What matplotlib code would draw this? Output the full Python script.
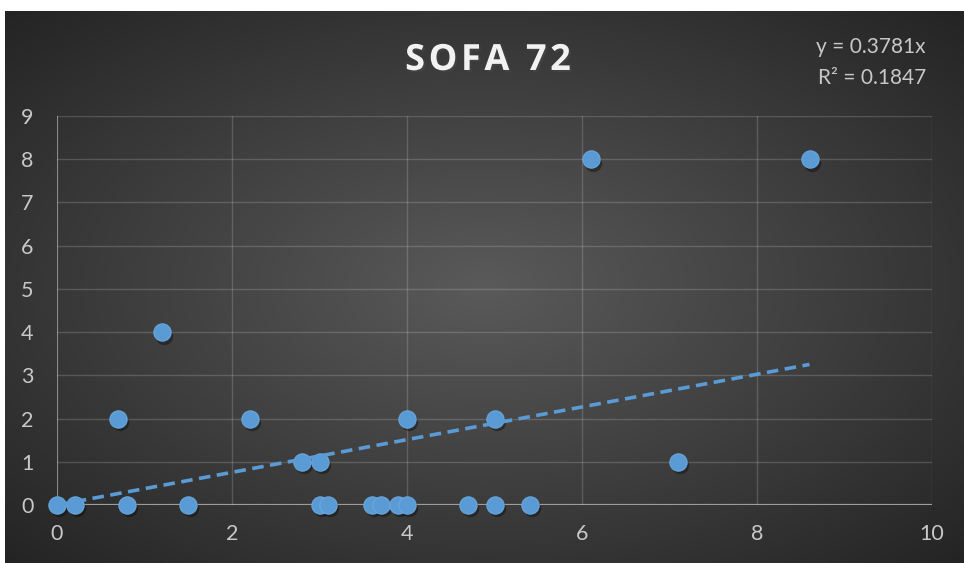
import numpy as np
import matplotlib
matplotlib.use("Agg")
import matplotlib.pyplot as plt
from matplotlib.transforms import ScaledTranslation
import matplotlib.patheffects as pe

# SOFA 72 scatter data
x_vals = [0, 0.2, 0.8, 1.5, 3.0, 3.1, 3.6, 3.7, 3.9, 4.0, 4.7, 5.0, 5.4,
          2.8, 3.0, 7.1,
          0.7, 2.2, 4.0, 5.0,
          1.2,
          6.1, 8.6]
y_vals = [0, 0, 0, 0, 0, 0, 0, 0, 0, 0, 0, 0, 0,
          1, 1, 1,
          2, 2, 2, 2,
          4,
          8, 8]

# Linear trend through the origin
slope = 0.3781
r_squared = 0.1847
trend_x = [0, 8.6]

x_ticks = [0, 2, 4, 6, 8, 10]
y_ticks = list(range(0, 10))

W, H = 964, 563
fig = plt.figure(figsize=(W / 100, H / 100), dpi=100, facecolor="white")

# Dark radial gradient chart background
bg = fig.add_axes([5 / W, 0, (W - 5) / W, (H - 11) / H])
bg.set_axis_off()
gx = np.linspace(-1, 1, 600)
gy = np.linspace(-1, 1, 350)
GX, GY = np.meshgrid(gx, gy)
r = np.sqrt(GX ** 2 + GY ** 2) / np.sqrt(2)
inner = np.array([0x5a, 0x5a, 0x5a]) / 255
outer = np.array([0x24, 0x24, 0x24]) / 255
t = np.clip(r, 0, 1)[..., None]
img = inner * (1 - t) + outer * t
bg.imshow(img, aspect="auto", extent=[0, 1, 0, 1], interpolation="bilinear")
bg.set_xlim(0, 1)
bg.set_ylim(0, 1)

ax = fig.add_axes([57 / W, (H - 505) / H, (932 - 57) / W, (505 - 116) / H])
ax.set_facecolor("none")
ax.set_xlim(0, 10)
ax.set_ylim(0, 9)
ax.set_xticks(x_ticks)
ax.set_yticks(y_ticks)
for s in ax.spines.values():
    s.set_visible(False)
ax.grid(True, color="white", alpha=0.17, linewidth=1.0)
ax.axhline(0, color="#9a9a9a", linewidth=1.6, zorder=1)
ax.axvline(0, color="#808080", linewidth=1.2, zorder=1)
ax.tick_params(length=0, labelsize=15.5, labelcolor="#c8c8c8")
ax.tick_params(axis="y", pad=17)
ax.tick_params(axis="x", pad=14)
for lab in ax.get_xticklabels() + ax.get_yticklabels():
    lab.set_fontfamily("Lato")

# Soft drop shadow beneath markers
shadow = ax.transData + ScaledTranslation(1.5 / 72, -2.5 / 72, fig.dpi_scale_trans)
ax.scatter(x_vals, y_vals, s=155, color="black", alpha=0.35, linewidths=0,
           transform=shadow, zorder=2, clip_on=False)
ax.scatter(x_vals, y_vals, s=155, color="#5b9bd5", edgecolors="#6aa7dd",
           linewidths=0.8, zorder=3, clip_on=False)

trend_y = [slope * v for v in trend_x]
ax.plot(trend_x, trend_y, color="#5b9bd5", linewidth=2.6,
        dashes=(3.2, 1.8), zorder=4, solid_capstyle="butt")

# Letter-spaced bold title
title = "SOFA 72"
spaced = "\u200a".join(title)
fig.text(488 / W, 1 - 61 / H, spaced,
         ha="center", va="center", fontsize=26, fontweight="bold",
         family=["Open Sans", "DejaVu Sans"], color="#f2f2f2",
         path_effects=[pe.withSimplePatchShadow(offset=(1.5, -1.5), alpha=0.5)])

fig.text(926 / W, 1 - 47 / H, f"y = {slope}x", ha="right", va="center",
         fontsize=15, family="Lato", color="#c8c8c8")
fig.text(926 / W, 1 - 78 / H, f"R² = {r_squared}", ha="right", va="center",
         fontsize=15, family="Lato", color="#c8c8c8")

fig.savefig("out.png", dpi=100, facecolor="white")
